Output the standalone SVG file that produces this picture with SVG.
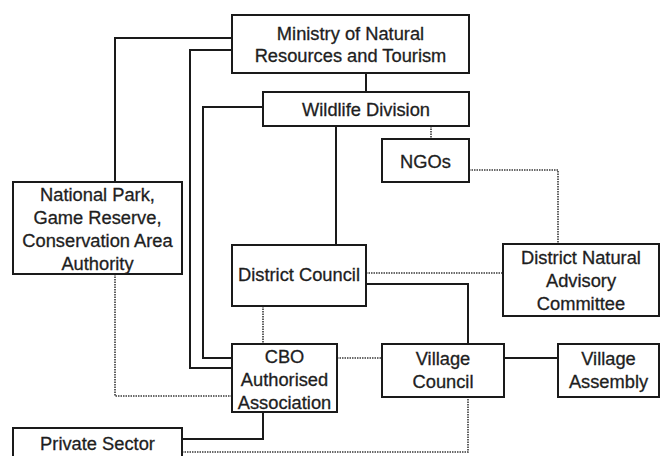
<svg xmlns="http://www.w3.org/2000/svg" width="661" height="456" viewBox="0 0 661 456">
<style>
.box{fill:#fff;stroke:#1a1a1a;stroke-width:2}
.t{font-family:"Liberation Sans",Arial,sans-serif;font-size:18.3px;fill:#1e1e1e;stroke:#1e1e1e;stroke-width:0.3;text-anchor:middle}
.s{fill:none;stroke:#1a1a1a;stroke-width:2}
.d{fill:none;stroke:#3a3a3a;stroke-width:1.6;stroke-dasharray:1.5 1}
</style>
<rect width="661" height="456" fill="#fff"/>
<g id="connectors">
<polyline class="s" points="232,38 115,38 115,182"/>
<polyline class="s" points="232,50 190,50 190,368 232,368"/>
<polyline class="s" points="263,107 203,107 203,358 232,358"/>
<line class="s" x1="366" y1="73" x2="366" y2="92"/>
<line class="s" x1="336" y1="126" x2="336" y2="245"/>
<line class="d" x1="431" y1="126" x2="431" y2="139"/>
<polyline class="d" points="469,170 558,170 558,244"/>
<line class="d" x1="366" y1="273" x2="503" y2="273"/>
<polyline class="s" points="366,284 468,284 468,344"/>
<line class="d" x1="263" y1="306" x2="263" y2="344"/>
<polyline class="d" points="115,274 115,396 232,396"/>
<line class="d" x1="337" y1="358" x2="382" y2="358"/>
<line class="s" x1="504" y1="358" x2="558" y2="358"/>
<polyline class="s" points="263,412 263,439 182,439"/>
<polyline class="d" points="182,452 468,452 468,397"/>
</g>
<g id="ministry">
<rect class="box" x="232" y="15" width="237" height="58"/>
<text class="t" x="350.5" y="39.5">Ministry of Natural</text>
<text class="t" x="350.5" y="62">Resources and Tourism</text>
</g>
<g id="wildlife">
<rect class="box" x="263" y="92" width="206" height="34"/>
<text class="t" x="366" y="115.5">Wildlife Division</text>
</g>
<g id="ngos">
<rect class="box" x="382" y="139" width="87" height="43"/>
<text class="t" x="425.5" y="167.5">NGOs</text>
</g>
<g id="national-park">
<rect class="box" x="13" y="182" width="169" height="92"/>
<text class="t" x="97.5" y="200.5">National Park,</text>
<text class="t" x="97.5" y="223.5">Game Reserve,</text>
<text class="t" x="97.5" y="246.5">Conservation Area</text>
<text class="t" x="97.5" y="269.5">Authority</text>
</g>
<g id="district-council">
<rect class="box" x="232" y="245" width="134" height="61"/>
<text class="t" x="299" y="281">District Council</text>
</g>
<g id="dnac">
<rect class="box" x="503" y="244" width="156" height="72"/>
<text class="t" x="581" y="263.5">District Natural</text>
<text class="t" x="581" y="286.5">Advisory</text>
<text class="t" x="581" y="309.5">Committee</text>
</g>
<g id="cbo">
<rect class="box" x="232" y="344" width="105" height="68"/>
<text class="t" x="284.5" y="362.5">CBO</text>
<text class="t" x="284.5" y="385.5">Authorised</text>
<text class="t" x="284.5" y="408.5">Association</text>
</g>
<g id="village-council">
<rect class="box" x="382" y="344" width="122" height="53"/>
<text class="t" x="443" y="364.5">Village</text>
<text class="t" x="443" y="387.5">Council</text>
</g>
<g id="village-assembly">
<rect class="box" x="558" y="344" width="101" height="53"/>
<text class="t" x="608.5" y="364.5">Village</text>
<text class="t" x="608.5" y="387.5">Assembly</text>
</g>
<g id="private-sector">
<rect class="box" x="13" y="428" width="169" height="40"/>
<text class="t" x="97.5" y="449.5">Private Sector</text>
</g>
</svg>
